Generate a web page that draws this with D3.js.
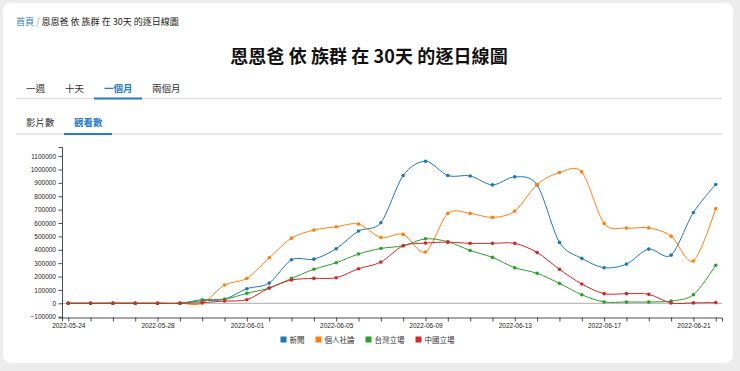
<!DOCTYPE html>
<html>
<head>
<meta charset="utf-8">
<script src="https://cdn.jsdelivr.net/npm/d3@7"></script>
<style>
  body { margin: 0; background: #ececec; }
  svg { display: block; }
  .cjk { font-family: "Noto Sans CJK TC", "Noto Sans", sans-serif; }
  .axis text { font-family: "Liberation Sans", Arial, sans-serif; font-size: 6.5px; fill: #222; }
  .axis path, .axis line { stroke: #222; stroke-width: 0.8; }
</style>
</head>
<body>
<div id="chart"></div>
<script>
const dates = ['2022-05-24','2022-05-25','2022-05-26','2022-05-27','2022-05-28','2022-05-29',
  '2022-05-30','2022-05-31','2022-06-01','2022-06-02','2022-06-03','2022-06-04','2022-06-05',
  '2022-06-06','2022-06-07','2022-06-08','2022-06-09','2022-06-10','2022-06-11','2022-06-12',
  '2022-06-13','2022-06-14','2022-06-15','2022-06-16','2022-06-17','2022-06-18','2022-06-19',
  '2022-06-20','2022-06-21','2022-06-22'];

// 新聞
const news = [0,0,0,0,0,0,20000,30000,109000,151000,325000,330000,408000,540000,602000,955000,
  1062000,955000,952000,885000,945000,885000,455000,336000,266000,293000,405000,360000,679000,888000];
// 個人社論
const opinion = [0,0,0,0,0,0,0,137000,186000,340000,487000,547000,572000,592000,492000,515000,
  383000,672000,672000,642000,689000,888000,977000,982000,597000,562000,564000,502000,316000,709000];
// 台灣立場
const taiwan = [0,0,0,0,0,0,27000,30000,75000,114000,186000,254000,303000,368000,410000,430000,
  482000,460000,395000,343000,266000,224000,149000,64000,10000,10000,10000,17000,64000,284000];
// 中國立場
const china = [0,0,0,0,0,0,5000,17000,27000,114000,174000,186000,191000,258000,308000,430000,
  450000,457000,448000,448000,448000,380000,254000,144000,72000,72000,67000,2000,3000,5000];

const seriesNames = ['新聞', '個人社論', '台灣立場', '中國立場'];
const seriesValues = [news, opinion, taiwan, china];
const colors = ['#1f77b4', '#ff7f0e', '#2ca02c', '#d62728'];
const xTickLabels = ['2022-05-24','2022-05-28','2022-06-01','2022-06-05','2022-06-09',
  '2022-06-13','2022-06-17','2022-06-21'];
const periodTabs = ['一週', '十天', '一個月', '兩個月'];
const metricTabs = ['影片數', '觀看數'];
const pageTitle = '恩恩爸 依 族群 在 30天 的逐日線圖';

const W = 740, H = 371;
const blue = '#2b7bc4';

const svg = d3.select('#chart').append('svg').attr('width', W).attr('height', H);

// card
svg.append('rect').attr('x', 3).attr('y', 3).attr('width', 730).attr('height', 360)
  .attr('rx', 8).attr('fill', '#fff');

// breadcrumb
const bc = svg.append('text').attr('class', 'cjk').attr('x', 16).attr('y', 24.5)
  .attr('font-size', 9);
bc.append('tspan').attr('fill', blue).text('首頁');
bc.append('tspan').attr('fill', '#999').text(' / ');
bc.append('tspan').attr('fill', '#222').text(pageTitle);

// title
svg.append('text').attr('class', 'cjk').attr('x', 369).attr('y', 55)
  .attr('text-anchor', 'middle').attr('dominant-baseline', 'central')
  .attr('font-size', 18).attr('font-weight', 700).attr('fill', '#111')
  .attr('letter-spacing', 0.1)
  .text(pageTitle);

// tab rows
function tabRow(labels, lefts, active, cy, lineY, ulX) {
  svg.append('line').attr('x1', 16).attr('x2', 722).attr('y1', lineY).attr('y2', lineY)
    .attr('stroke', '#e0e0e0').attr('stroke-width', 1.5);
  svg.append('line').attr('x1', ulX[0]).attr('x2', ulX[1]).attr('y1', lineY).attr('y2', lineY)
    .attr('stroke', blue).attr('stroke-width', 2);
  labels.forEach((t, i) => {
    svg.append('text').attr('class', 'cjk').attr('x', lefts[i]).attr('y', cy)
      .attr('dominant-baseline', 'central').attr('font-size', 9.5)
      .attr('font-weight', i === active ? 700 : 400)
      .attr('fill', i === active ? blue : '#333')
      .text(t);
  });
}
tabRow(periodTabs, [26, 65, 104, 152], 2, 87.5, 98.5, [94, 142]);
tabRow(metricTabs, [26, 74], 1, 122, 134, [64, 112]);

// chart
const parse = d3.timeParse('%Y-%m-%d');
const days = dates.map(parse);
const pad = 0.28 * 864e5;
const x = d3.scaleTime()
  .domain([new Date(+days[0] - pad), new Date(+days[days.length - 1] + pad)])
  .range([62, 722]);

const all = seriesValues.flat();
const vMin = d3.min(all), vMax = d3.max(all);
const vPad = (vMax - vMin) * 0.1;
const y = d3.scaleLinear().domain([vMin - vPad, vMax + vPad]).range([317.5, 147]);

// zero grid line
svg.append('line').attr('x1', 62).attr('x2', 722).attr('y1', y(0)).attr('y2', y(0))
  .attr('stroke', '#aaa').attr('stroke-width', 1);

svg.append('g').attr('class', 'axis')
  .attr('transform', 'translate(62,0)')
  .call(d3.axisLeft(y).ticks(10).tickSize(3.5).tickPadding(2.5).tickFormat(d3.format('d')));

const fmt = d3.timeFormat('%Y-%m-%d');
svg.append('g').attr('class', 'axis')
  .attr('transform', 'translate(0,317.5)')
  .call(d3.axisBottom(x).tickValues(days).tickSize(4).tickPadding(2)
    .tickFormat(d => xTickLabels.includes(fmt(d)) ? fmt(d) : ''));

const line = d3.line()
  .x((d, i) => x(days[i]))
  .y(d => y(d))
  .curve(d3.curveCardinal.tension(0.1));

seriesValues.forEach((vals, s) => {
  const g = svg.append('g');
  g.append('path').datum(vals).attr('d', line)
    .attr('fill', 'none').attr('stroke', colors[s]).attr('stroke-width', 1);
  g.selectAll('circle').data(vals).join('circle')
    .attr('cx', (d, i) => x(days[i])).attr('cy', d => y(d)).attr('r', 1.8)
    .attr('fill', colors[s]);
});

// legend
const leg = svg.append('g');
let lx = 0;
seriesNames.forEach((name, i) => {
  const item = leg.append('g').attr('transform', `translate(${lx},0)`);
  item.append('rect').attr('x', 0).attr('y', -3).attr('width', 6).attr('height', 6)
    .attr('fill', colors[i]);
  const t = item.append('text').attr('class', 'cjk').attr('x', 9).attr('y', 0)
    .attr('dominant-baseline', 'central').attr('font-size', 7.5).attr('fill', '#333')
    .text(name);
  lx += 9 + t.node().getComputedTextLength() + 11;
});
lx -= 11;
leg.attr('transform', `translate(${367.5 - lx / 2},339.5)`);
</script>
</body>
</html>
